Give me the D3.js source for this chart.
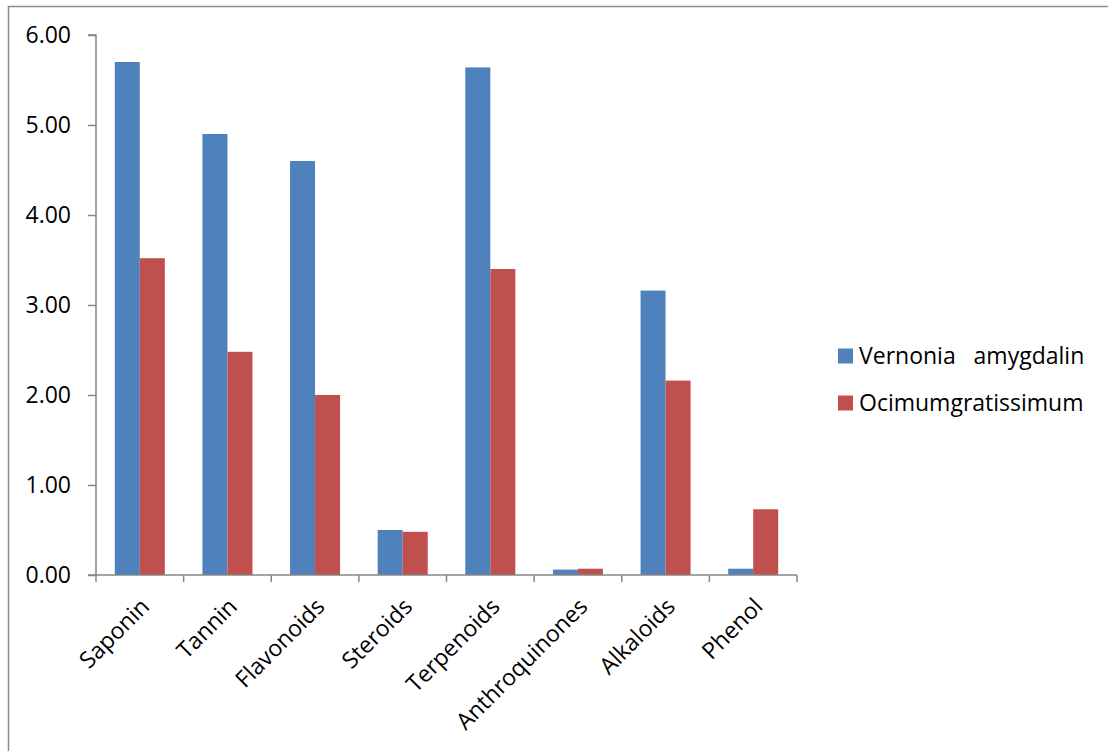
<!DOCTYPE html>
<html>
<head>
<meta charset="utf-8">
<script src="https://cdn.jsdelivr.net/npm/d3@7"></script>
<style>
  html, body { margin: 0; padding: 0; background: #fff; }
  svg { display: block; }
  text { font-family: "Open Sans", sans-serif; fill: #000; }
</style>
</head>
<body>
<svg id="chart" width="1108" height="751"></svg>
<script>
const categories = ["Saponin", "Tannin", "Flavonoids", "Steroids", "Terpenoids", "Anthroquinones", "Alkaloids", "Phenol"];
const seriesNames = ["Vernonia   amygdalin", "Ocimumgratissimum"];
const vernonia = [5.70, 4.90, 4.60, 0.50, 5.64, 0.06, 3.16, 0.07];
const ocimum = [3.52, 2.48, 2.00, 0.48, 3.40, 0.07, 2.16, 0.73];
const yTicks = [0, 1, 2, 3, 4, 5, 6];
const colors = ["#4F81BD", "#C0504D"];

(function () {
const FONT = "Open Sans";
const FS = 23;
const svg = d3.select("#chart");

// outer frame
svg.append("path")
  .attr("d", "M8.5,751 L8.5,6.5 L1108,6.5")
  .attr("fill", "none")
  .attr("stroke", "#8c8c8c")
  .attr("stroke-width", 1.5);

const pLeft = 96, pRight = 797, pTop = 35, pBottom = 575;

const x0 = d3.scaleBand().domain(categories).range([pLeft, pRight]).padding(0);
const bw = x0.bandwidth();
const x1 = d3.scaleBand().domain(seriesNames).range([bw * 0.2145, bw * 0.7855]).padding(0);
const y = d3.scaleLinear().domain([0, 6]).range([pBottom, pTop]);

const seriesValues = [vernonia, ocimum];

// bars
seriesNames.forEach((name, si) => {
  svg.append("g").selectAll("rect")
    .data(categories.map((c, i) => ({ c, v: seriesValues[si][i] })))
    .join("rect")
    .attr("x", d => x0(d.c) + x1(name))
    .attr("width", x1.bandwidth())
    .attr("y", d => y(d.v))
    .attr("height", d => y(0) - y(d.v))
    .attr("fill", colors[si]);
});

// y axis
const yAxis = d3.axisLeft(y).tickValues(yTicks).tickFormat(d3.format(".2f")).tickSize(8).tickPadding(17);
const gy = svg.append("g").attr("transform", `translate(${pLeft},0)`).call(yAxis);
gy.select(".domain").attr("stroke", "#868686").attr("stroke-width", 1.5).attr("d", `M-8,${pTop}H0V${pBottom}H-8`);
gy.selectAll(".tick line").attr("stroke", "#868686").attr("stroke-width", 1.5);
gy.selectAll(".tick text").attr("font-size", FS).attr("font-family", FONT).attr("fill", "#000");

// x axis line + ticks at boundaries
const gx = svg.append("g");
gx.append("line").attr("x1", pLeft).attr("x2", pRight).attr("y1", pBottom).attr("y2", pBottom)
  .attr("stroke", "#868686").attr("stroke-width", 1.5);
const boundaries = categories.map(c => x0(c)).concat([x0(categories[categories.length - 1]) + bw]);
gx.selectAll("line.tk").data(boundaries).join("line").attr("class", "tk")
  .attr("x1", d => d).attr("x2", d => d).attr("y1", pBottom).attr("y2", pBottom + 7)
  .attr("stroke", "#868686").attr("stroke-width", 1.5);

// category labels rotated
gx.selectAll("text.cat").data(categories).join("text").attr("class", "cat")
  .attr("transform", d => `translate(${x0(d) + bw / 2 + 11},${pBottom + 33}) rotate(-45)`)
  .attr("text-anchor", "end")
  .attr("font-size", FS)
  .text(d => d);

// legend
const lg = svg.append("g");
seriesNames.forEach((name, i) => {
  const cy = 356 + i * 47;
  lg.append("rect").attr("x", 838).attr("y", cy - 7.5).attr("width", 15).attr("height", 15).attr("fill", colors[i]);
  lg.append("text").attr("x", 859).attr("y", cy).attr("dy", "0.36em")
    .attr("font-size", FS).style("white-space", "pre").attr("xml:space", "preserve").text(name);
});
})();
</script>
</body>
</html>
